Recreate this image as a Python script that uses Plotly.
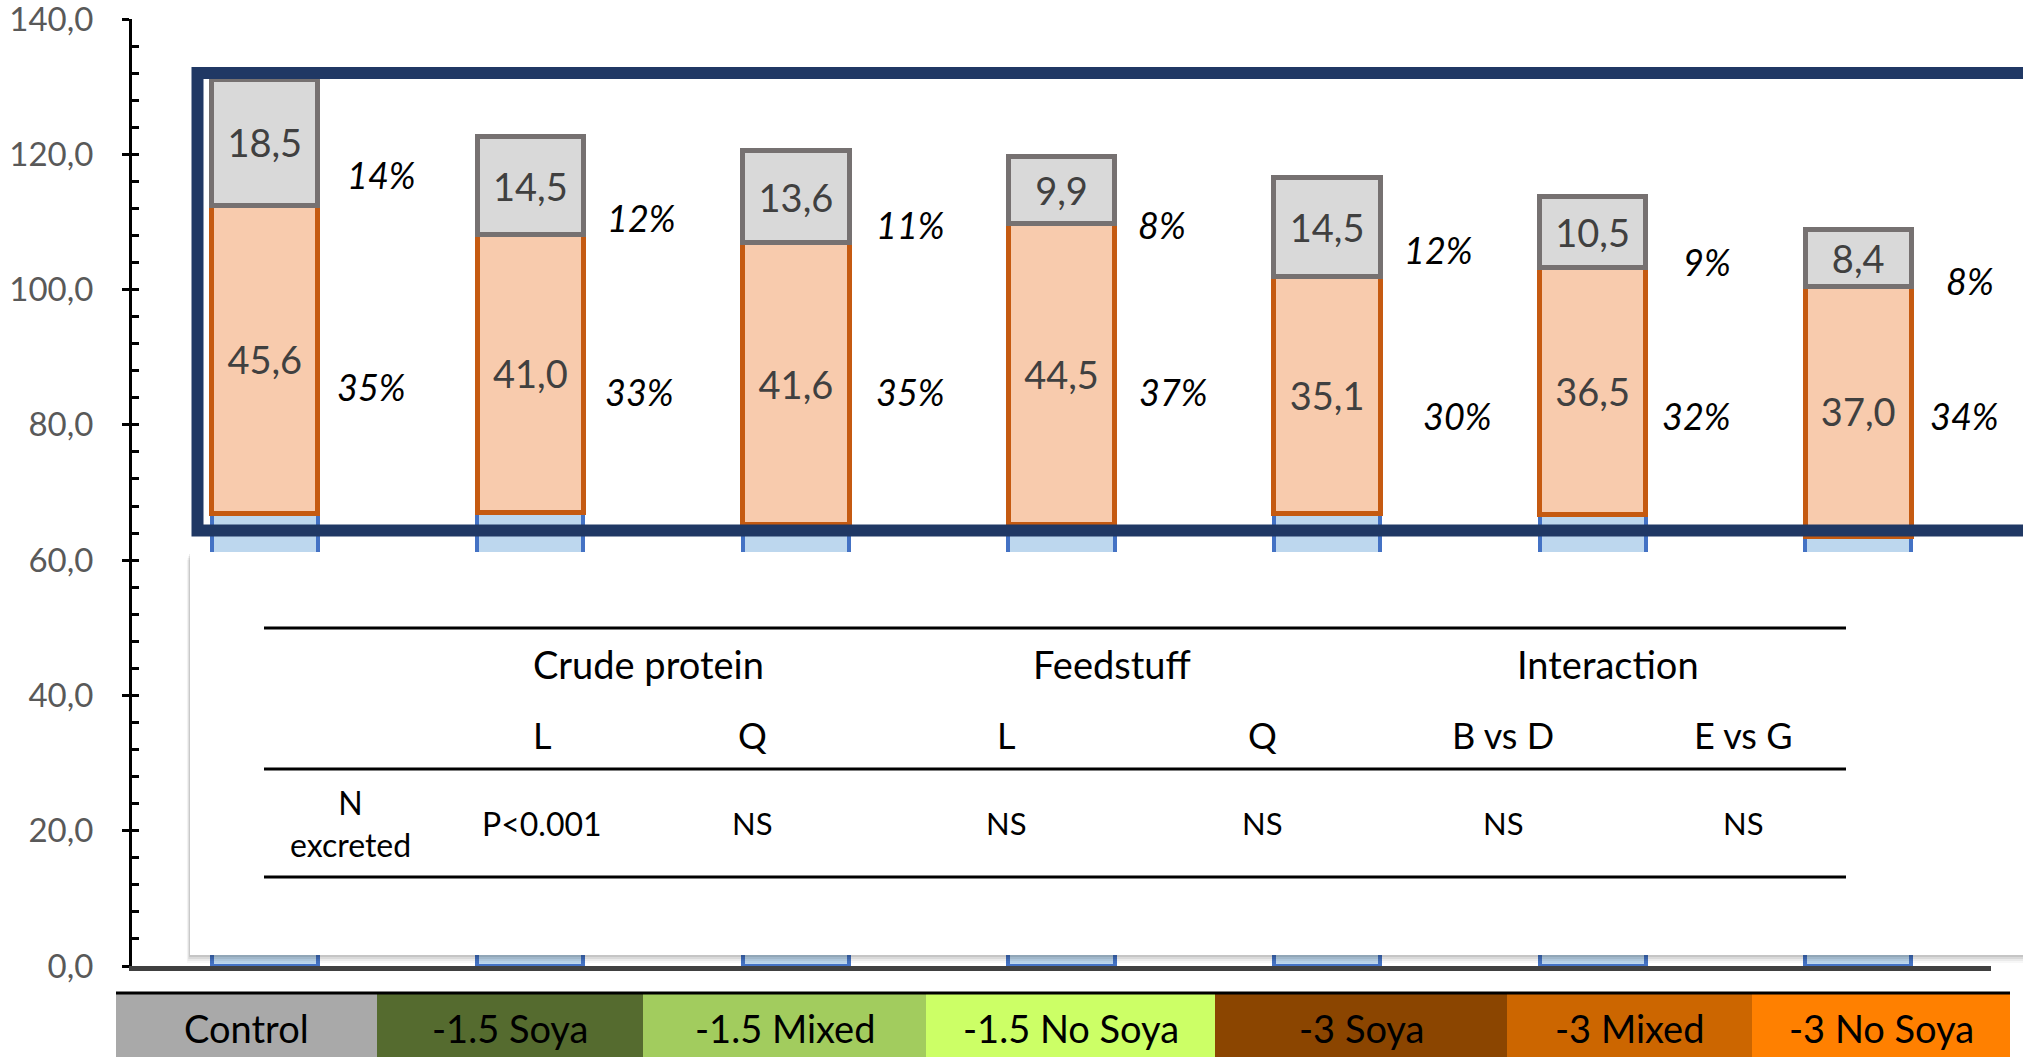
import plotly.graph_objects as go

# ---- data -------------------------------------------------------------
categories = ["Control", "-1.5 Soya", "-1.5 Mixed", "-1.5 No Soya",
              "-3 Soya", "-3 Mixed", "-3 No Soya"]
lower_values = [66.9, 67.1, 65.3, 65.2, 66.9, 66.7, 63.5]     # blue base segment
middle_values = [45.6, 41.0, 41.6, 44.5, 35.1, 36.5, 37.0]    # orange segment
upper_values = [18.5, 14.5, 13.6, 9.9, 14.5, 10.5, 8.4]       # grey segment

band_colors = ["#A9A9A9", "#556B2F", "#A2CC5E", "#CCFF66",
               "#8B4500", "#CC6600", "#FF8000"]

table_groups = ["Crude protein", "Feedstuff", "Interaction"]
table_effects = ["L", "Q", "L", "Q", "B vs D", "E vs G"]
table_pvalues = ["P<0.001", "NS", "NS", "NS", "NS", "NS"]
table_row_label = "N<br>excreted"

y_ticks = [0, 20, 40, 60, 80, 100, 120, 140]

# ---- layout geometry (pixels) -------------------------------------------
FIG_W, FIG_H = 2023, 1057
L, R, T, B = 132, 1991, 19, 966
W, H = R - L, B - T


def px(xp):
    return (xp - L) / W


def py(yp):
    return (B - yp) / H


FONT = "Lato"
n = len(categories)
totals = [a + b + c for a, b, c in zip(lower_values, middle_values, upper_values)]


def pct(v, tot):
    return f"{int(100 * v / tot + 0.5)}%"


upper_pct = [pct(v, t) for v, t in zip(upper_values, totals)]
middle_pct = [pct(v, t) for v, t in zip(middle_values, totals)]

# label anchors (x offset from bar centre in category units, y in data units)
upper_pct_pos = [(0.44, 116.9), (0.42, 110.6), (0.43, 109.5), (0.38, 109.5),
                 (0.42, 105.9), (0.43, 104.1), (0.42, 101.2)]
middle_pct_pos = [(0.40, 85.6), (0.41, 84.8), (0.43, 84.8), (0.42, 84.8),
                  (0.49, 81.3), (0.39, 81.3), (0.40, 81.3)]

fig = go.Figure()

fig.add_trace(go.Bar(
    x=categories, y=lower_values,
    marker=dict(color="#BDD7EE", line=dict(color="#4472C4", width=4)),
    textposition="none", hoverinfo="skip", showlegend=False))
fig.add_trace(go.Bar(
    x=categories, y=middle_values,
    marker=dict(color="#F8CBAD", line=dict(color="#C55A11", width=5)),
    texttemplate="%{y:.1f}", textposition="inside", insidetextanchor="middle",
    textangle=0, textfont=dict(family=FONT, size=38, color="#404040"),
    hoverinfo="skip", showlegend=False))
fig.add_trace(go.Bar(
    x=categories, y=upper_values,
    marker=dict(color="#D9D9D9", line=dict(color="#767171", width=5)),
    texttemplate="%{y:.1f}", textposition="inside", insidetextanchor="middle",
    textangle=0, textfont=dict(family=FONT, size=38, color="#404040"),
    hoverinfo="skip", showlegend=False))

# carrier for the inside tick marks of the value axis
fig.add_trace(go.Scatter(x=[categories[0]], y=[None], yaxis="y2",
                         mode="markers", showlegend=False, hoverinfo="skip"))

shapes = []
# soft shadow + white panel holding the statistics table
for off, alpha in [(8, 0.03), (6, 0.05), (4, 0.07), (2, 0.09)]:
    shapes.append(dict(type="rect", xref="paper", yref="paper", layer="above",
                       x0=px(190 - off * 0.4), x1=px(2080),
                       y0=py(955 + off), y1=py(552 + off),
                       line=dict(width=0), fillcolor=f"rgba(0,0,0,{alpha})"))
shapes.append(dict(type="rect", xref="paper", yref="paper", layer="above",
                   x0=px(190), x1=px(2080), y0=py(955), y1=py(552),
                   line=dict(width=0), fillcolor="white"))
# navy highlight frame
shapes.append(dict(type="rect", xref="paper", yref="paper", layer="above",
                   x0=px(197.5), x1=px(2080), y0=py(530.5), y1=py(73),
                   line=dict(color="#203864", width=12), fillcolor="rgba(0,0,0,0)"))
# table rules
for yl in (628, 769, 877):
    shapes.append(dict(type="line", xref="paper", yref="paper", layer="above",
                       x0=px(264), x1=px(1846), y0=py(yl), y1=py(yl),
                       line=dict(color="black", width=3)))
# treatment colour band under the axis
band_edges = [116, 377, 643, 926, 1215, 1507, 1752, 2010]
for i, col in enumerate(band_colors):
    shapes.append(dict(type="rect", xref="paper", yref="paper", layer="above",
                       x0=px(band_edges[i]), x1=px(band_edges[i + 1]),
                       y0=py(1070), y1=py(994),
                       line=dict(width=0), fillcolor=col))
shapes.append(dict(type="line", xref="paper", yref="paper", layer="above",
                   x0=px(band_edges[0]), x1=px(band_edges[-1]),
                   y0=py(993), y1=py(993), line=dict(color="black", width=3)))

annotations = []


def note(x, y, text, size, xref="paper", yref="paper"):
    annotations.append(dict(x=x, y=y, xref=xref, yref=yref, text=text,
                            showarrow=False, xanchor="center", yanchor="middle",
                            font=dict(family=FONT, size=size, color="black")))


for i in range(n):
    dx, yv = upper_pct_pos[i]
    note(i + dx, yv, f"<i>{upper_pct[i]}</i>", 36, "x", "y")
    dx, yv = middle_pct_pos[i]
    note(i + dx, yv, f"<i>{middle_pct[i]}</i>", 36, "x", "y")

for i, name in enumerate(categories):
    cx = (band_edges[i] + band_edges[i + 1]) / 2
    note(px(cx), py(1028), name, 38)

group_x = [648, 1112, 1608]
col_x = [542, 752, 1006, 1262, 1503, 1743]
for gx, g in zip(group_x, table_groups):
    note(px(gx), py(664), g, 38)
for cx, e in zip(col_x, table_effects):
    note(px(cx), py(735), e, 36)
for cx, p in zip(col_x, table_pvalues):
    note(px(cx), py(823), p, 32 if p.startswith("P") else 31)
note(px(350), py(823), table_row_label, 32)

fig.update_layout(
    width=FIG_W, height=FIG_H,
    margin=dict(l=L, r=FIG_W - R, t=T, b=FIG_H - B, autoexpand=False),
    paper_bgcolor="white", plot_bgcolor="white",
    barmode="stack", bargap=0.60,
    separators=",.",
    uniformtext=dict(minsize=38, mode="show"),
    font=dict(family=FONT),
    xaxis=dict(type="category", range=[-0.5, n - 0.5], showticklabels=False,
               ticks="", showgrid=False, zeroline=False, automargin=False,
               showline=True, linecolor="#404040", linewidth=5),
    yaxis=dict(range=[0, 140], tickvals=y_ticks, tickformat=".1f",
               ticks="outside", ticklen=7, tickwidth=2.5, tickcolor="black",
               showline=True, linecolor="black", linewidth=3,
               showgrid=False, zeroline=False, ticklabelstandoff=22,
               ticklabeloverflow="allow", automargin=False,
               tickfont=dict(family=FONT, size=33, color="#595959")),
    yaxis2=dict(range=[0, 140], overlaying="y", side="left", anchor="x",
                tick0=0, dtick=4, ticks="inside", ticklen=7, tickwidth=2.5,
                tickcolor="black", showticklabels=False, showgrid=False,
                zeroline=False, showline=False, automargin=False),
    shapes=shapes, annotations=annotations,
)

fig.write_html("out.html")
